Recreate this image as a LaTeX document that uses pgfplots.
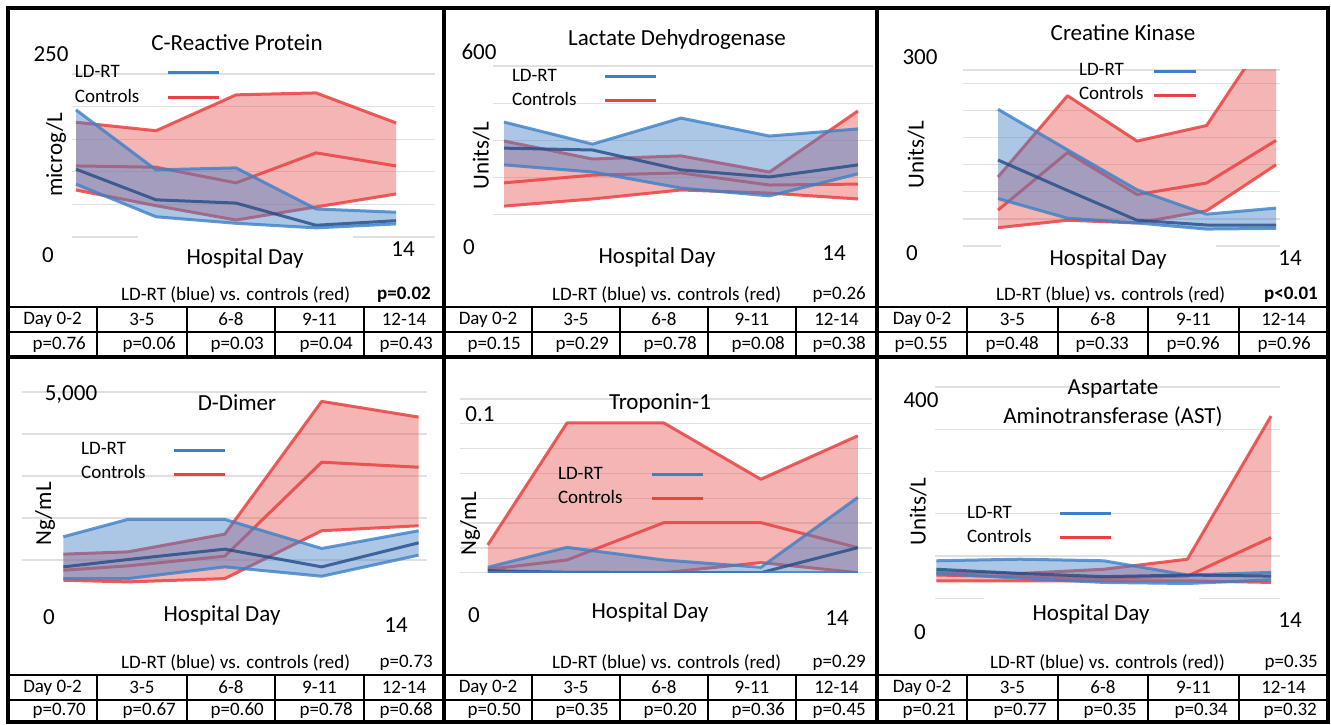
\documentclass[border=0pt]{standalone}
\usepackage{fontspec}
\setmainfont{Carlito}
\usepackage{pgfplots}
\pgfplotsset{compat=1.18}
\usepackage{pgfplotstable}

\definecolor{bline}{RGB}{60,128,200}
\definecolor{bmed}{RGB}{35,75,135}
\definecolor{rline}{RGB}{235,65,65}
\definecolor{bfill}{RGB}{70,130,200}
\definecolor{rfill}{RGB}{230,90,90}
\definecolor{gridc}{RGB}{224,224,224}

\newcommand\lab{\fontsize{23}{27}\selectfont}
\newcommand\sm{\fontsize{19}{22}\selectfont}

\pgfplotstableread{
x bu bm bl ru rm rl
1 195 104 81 176 109 72
4 103 57 31 163 107 48
7 106 52 21 218 83 26
10 43 18 14 221 129 46
13 38 25 20 175 109 66
}\tcrp

\pgfplotstableread{
x bu bm bl ru rm rl
1 419 335 281 358 223 148
4 348 329 258 300 248 171
7 432 265 206 310 255 200
10 374 242 181 258 216 190
13 397 281 252 455 219 171
}\tldh

\pgfplotstableread{
x bu bm bl ru rm rl
1 202 127 70 102 53 27
4 142 82 41 222 138 38
7 83 38 34 155 76 34
10 47 31 25 178 93 52
13 56 31 26 332 156 120
}\tck

\pgfplotstableread{
x bu bm bl ru rm rl
2 1553 836 557 1139 756 518
4 1967 1011 557 1194 860 478
7 1967 1258 836 1616 1091 557
10 1274 836 613 4777 3328 1696
13 1696 1409 1115 4403 3209 1815
}\tdd

\pgfplotstableread{
x bu bm bl ru rm rl
1.55 0.0031 0.0012 0.0002 0.0160 0.0019 0.0006
4 0.0146 0.0002 0.0002 0.0862 0.0073 0
7 0.0073 0 0 0.0862 0.0288 0
10 0.0031 0 0 0.0538 0.0288 0.0058
13 0.0433 0.0144 0 0.0788 0.0144 0
}\ttro

\pgfplotstableread{
x bu bm bl ru rm rl
1 71 55 47 50 44 33
4 74 47 38 47 41 33
7 71 41 30 55 38 33
10 44 44 28 74 42 33
13 49 42 35 345 115 30
}\tast

\pgfplotsset{
  panel/.style={
    scale only axis, clip=true,
    axis line style={draw=none},
    xtick=\empty,
    yticklabels={},
    major tick length=0pt,
    ymajorgrids, grid style={gridc, line width=1.3pt},
    legend plot pos=right,
    legend cell align=left,
    legend image code/.code={\draw[##1] (0pt,0pt) -- (51pt,0pt);},
    legend style={draw=none, fill=none, inner sep=0pt, outer sep=0pt, font=\sm,
      nodes={inner sep=0pt, text height=13pt, text depth=4pt},
      row sep=7pt, column sep=27pt, anchor=north west},
  },
  lw/.style={line width=3pt, line join=round, opacity=0.85, forget plot},
  band/.style={draw=none, fill opacity=0.45, forget plot},
}

% #1 table, #2 red polygon, #3 blue polygon
\newcommand\bands[3]{%
  \addplot[band, fill=rfill] coordinates {#2} -- cycle;
  \addplot[rline, lw] table[x=x,y=ru]{#1};
  \addplot[rline, lw] table[x=x,y=rm]{#1};
  \addplot[rline, lw] table[x=x,y=rl]{#1};
  \addplot[band, fill=bfill] coordinates {#3} -- cycle;
  \addplot[bline, lw, opacity=0.8] table[x=x,y=bu]{#1};
  \addplot[bmed, lw, opacity=0.8] table[x=x,y=bm]{#1};
  \addplot[bline, lw, opacity=0.8] table[x=x,y=bl]{#1};
  \addlegendimage{bline, line width=2.8pt}
  \addlegendentry{LD-RT}
  \addlegendimage{rline, line width=2.8pt}
  \addlegendentry{Controls}
}

\begin{document}
\begin{tikzpicture}
\path[use as bounding box] (0pt,0pt) rectangle (1331pt,725pt);

% ---------- Panel 1: CRP
\begin{axis}[panel, at={(72pt,651pt)}, anchor=north west, width=363pt, height=163pt,
  xmin=0.85, xmax=14.46, ymin=0, ymax=250, ytick={0,50,...,250},
  legend style={at={(0.008,1.061)}, row sep=8pt}]
\bands{\tcrp}
 {(1,176)(4,163)(7,218)(10,221)(13,175)(13,66)(10,46)(7,26)(4,48)(1,72)}
 {(1,195)(4,103)(7,106)(10,43)(13,38)(13,20)(10,14)(7,21)(4,31)(1,81)}
\end{axis}
% ---------- Panel 2: LDH
\begin{axis}[panel, at={(493pt,659pt)}, anchor=north west, width=380pt, height=186pt,
  xmin=0.627, xmax=13.51, ymin=0, ymax=600, ytick={120,240,...,600},
  legend style={at={(0.05,0.989)}}]
\bands{\tldh}
 {(1,358)(4,300)(7,310)(10,258)(13,455)(13,171)(10,190)(7,200)(4,171)(1,148)}
 {(1,419)(4,348)(7,432)(10,374)(13,397)(13,252)(10,181)(7,206)(4,258)(1,281)}
\end{axis}
% ---------- Panel 3: CK
\begin{axis}[panel, at={(963pt,655pt)}, anchor=north west, width=317pt, height=176pt,
  xmin=-0.51, xmax=13.17, ymin=0, ymax=260, ytick={0,40,80,120,160,200,240,260},
  legend image code/.code={\draw[#1] (0pt,0pt) -- (42pt,0pt);},
  legend style={at={(0.366,1.040)}, column sep=9pt}]
\bands{\tck}
 {(1,102)(4,222)(7,155)(10,178)(13,332)(13,120)(10,52)(7,34)(4,38)(1,27)}
 {(1,202)(4,142)(7,83)(10,47)(13,56)(13,26)(10,25)(7,34)(4,41)(1,70)}
\end{axis}
% ---------- Panel 4: D-Dimer
\begin{axis}[panel, at={(22pt,333pt)}, anchor=north west, width=405pt, height=210pt,
  xmin=0.72, xmax=13.26, ymin=0, ymax=5000, ytick={1000,2000,3000,4000,5000},
  legend style={at={(0.146,0.762)}}]
\bands{\tdd}
 {(2,1139)(4,1194)(7,1616)(10,4777)(13,4403)(13,1815)(10,1696)(7,557)(4,478)(2,518)}
 {(2,1553)(4,1967)(7,1967)(10,1274)(13,1696)(13,1115)(10,613)(7,836)(4,557)(2,557)}
\end{axis}
% ---------- Panel 5: Troponin
\begin{axis}[panel, at={(460pt,326pt)}, anchor=north west, width=412pt, height=173.7pt,
  xmin=0.69, xmax=13.44, ymin=0, ymax=0.1,
  ytick={0,0.01429,0.02857,0.04286,0.05714,0.07143,0.08571,0.1},
  legend style={at={(0.238,0.614)}, column sep=28pt}]
\bands{\ttro}
 {(1.55,0.0160)(4,0.0862)(7,0.0862)(10,0.0538)(13,0.0788)(13,0)(10,0.0058)(7,0)(4,0)(1.55,0.0006)}
 {(1.55,0.0031)(4,0.0146)(7,0.0073)(10,0.0031)(13,0.0433)(13,0)(10,0)(7,0)(4,0.0002)(1.55,0.0002)}
\end{axis}
% ---------- Panel 6: AST
\begin{axis}[panel, at={(935pt,338pt)}, anchor=north west, width=345pt, height=211.3pt,
  xmin=0.95, xmax=13.32, ymin=0, ymax=400, ytick={0,80,...,400},
  legend style={at={(0.093,0.441)}}]
\bands{\tast}
 {(1,50)(4,47)(7,55)(10,74)(13,345)(13,30)(10,33)(7,33)(4,33)(1,33)}
 {(1,71)(4,74)(7,71)(10,44)(13,49)(13,35)(10,28)(7,30)(4,38)(1,47)}
\end{axis}

\begin{scope}[x=1pt, y=-1pt, yshift=725pt]
\begin{scope}[every node/.style={font=\lab, inner sep=0pt}]
\node at (237,43) {C-Reactive Protein};
\node at (51,54) {250};
\node at (48,255) {0};
\node at (403,249) {14};
\node[fill=white, minimum width=215pt, minimum height=46pt] at (245,258) {Hospital Day};
\node[rotate=90] at (56,155) {microg/L};

\node at (677,40) {Lactate Dehydrogenase};
\node at (479,52) {600};
\node at (469,247) {0};
\node at (834,253) {14};
\node at (657,257) {Hospital Day};
\node[rotate=90] at (481,156) {Units/L};

\node at (1123,33) {Creatine Kinase};
\node at (920,57) {300};
\node at (912,253) {0};
\node at (1290,258) {14};
\node[fill=white, minimum width=215pt, minimum height=34pt] at (1108,259) {Hospital Day};
\node[rotate=90] at (916,155) {Units/L};

\node at (237,403) {D-Dimer};
\node at (71,395) {5,000};
\node at (49,617) {0};
\node at (396,625) {14};
\node at (222,615) {Hospital Day};
\node[rotate=90] at (45,514) {Ng/mL};

\node at (660,403) {Troponin-1};
\node at (480,414) {0.1};
\node at (474,615) {0};
\node at (837,618) {14};
\node at (650,612) {Hospital Day};
\node[rotate=90] at (470,524) {Ng/mL};

\node at (1113,389) {Aspartate};
\node at (1113,417) {Aminotransferase (AST)};
\node at (921,400) {400};
\node at (920,632) {0};
\node at (1290,620) {14};
\node[fill=white, minimum width=215pt, minimum height=36pt] at (1091,614) {Hospital Day};
\node[rotate=90] at (918,512) {Units/L};
\end{scope}

\begin{scope}[every node/.style={font=\sm, inner sep=0pt}]
\node[anchor=west] at (121,295) {LD-RT (blue) vs. controls (red)};
\node[anchor=east] at (431,295) {\textbf{p=0.02}};
\node[anchor=west] at (552,295) {LD-RT (blue) vs. controls (red)};
\node[anchor=east] at (866,295) {p=0.26};
\node[anchor=west] at (996,295) {LD-RT (blue) vs. controls (red)};
\node[anchor=east] at (1318,295) {\textbf{p<0.01}};
\node[anchor=west] at (121,663) {LD-RT (blue) vs. controls (red)};
\node[anchor=east] at (433,663) {p=0.73};
\node[anchor=west] at (552,663) {LD-RT (blue) vs. controls (red)};
\node[anchor=east] at (866,663) {p=0.29};
\node[anchor=west] at (990,663) {LD-RT (blue) vs. controls (red))};
\node[anchor=east] at (1318,663) {p=0.35};

\foreach \x/\t in {52.5/Day 0-2,142/3-5,231/6-8,319.5/9-11,404/12-14,
                   488/Day 0-2,576/3-5,664/6-8,752/9-11,836.5/12-14,
                   922/Day 0-2,1012.5/3-5,1103/6-8,1193.5/9-11,1283.5/12-14}{
  \node at (\x,319.5) {\t};
  \node at (\x,687.5) {\t};
}
\foreach \x/\t in {86/0.76,176/0.06,264/0.03,353/0.04,433/0.43,
                   521/0.15,609/0.29,697/0.78,785/0.08,866/0.38,
                   948/0.55,1039/0.48,1129/0.33,1220/0.96,1311/0.96}{
  \node[anchor=east] at (\x,344.5) {p=\t};
}
\foreach \x/\t in {86/0.70,176/0.67,264/0.60,353/0.78,433/0.68,
                   521/0.50,609/0.35,697/0.20,785/0.36,866/0.45,
                   956/0.21,1047/0.77,1137/0.35,1228/0.34,1317/0.32}{
  \node[anchor=east] at (\x,711) {p=\t};
}
\end{scope}

\draw[line width=1.3pt] (8,307) -- (1328,307) (8,332) -- (1328,332)
  (8,675) -- (1328,675) (8,700) -- (1328,700);
\foreach \x in {97,187,275,364,532,620,708,796,967,1058,1148,1239}{
  \draw[line width=1.3pt] (\x,307) -- (\x,357);
  \draw[line width=1.3pt] (\x,675) -- (\x,722);
}
\draw[line width=4.2pt] (8,8) rectangle (1328,722);
\draw[line width=4.2pt] (444,8) -- (444,722) (877,8) -- (877,722) (8,357) -- (1328,357);
\end{scope}
\end{tikzpicture}
\end{document}
